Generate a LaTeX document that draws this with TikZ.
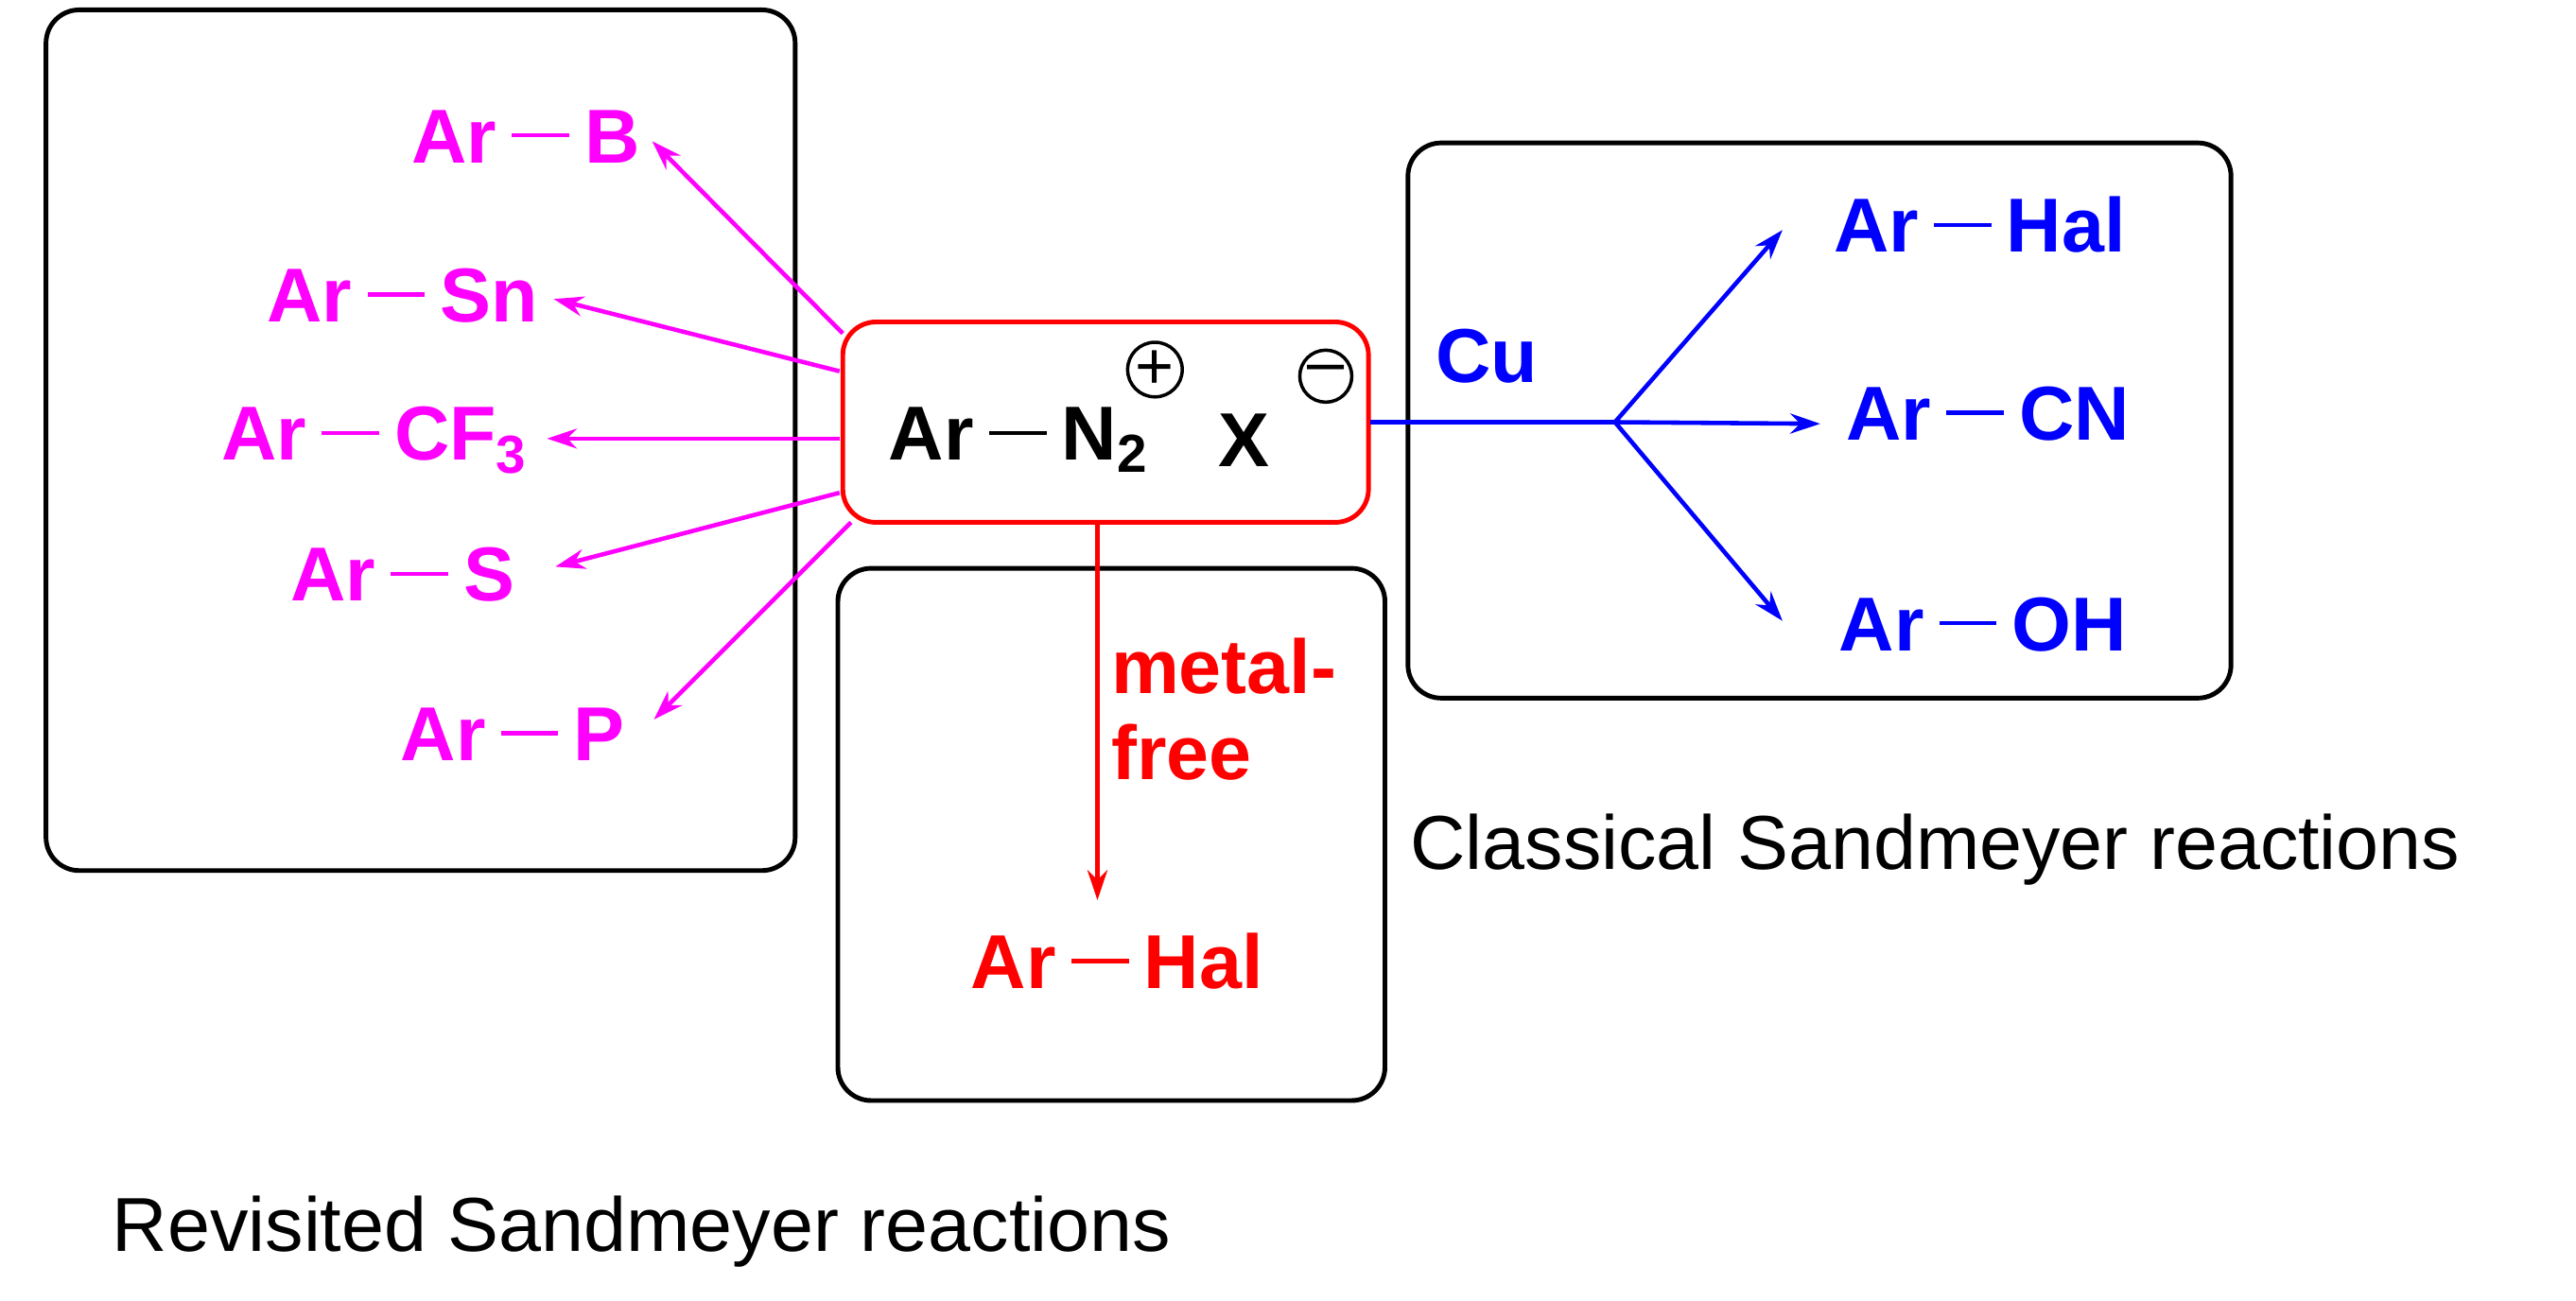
\documentclass[tikz,border=0pt]{standalone}
\usepackage{fontspec}
\setmainfont{Liberation Sans}
\usetikzlibrary{arrows.meta}
\definecolor{mag}{RGB}{255,0,255}
\definecolor{myblue}{RGB}{0,0,255}
\definecolor{myred}{RGB}{255,0,0}
\newcommand{\bnd}{\hspace{0.2em}\rule[0.33em]{0.75em}{1.3pt}\hspace{0.2em}}
\begin{document}
\begin{tikzpicture}[x=0.01737cm,y=-0.01737cm,
  box/.style={draw=black,line width=1.4pt,rounded corners=10pt},
  chem/.style={font=\fontsize{23}{26}\selectfont\bfseries,inner sep=0pt},
  captn/.style={font=\fontsize{23}{26}\selectfont,inner sep=0pt,anchor=west},
  ma/.style={mag,line width=1.3pt,-{Stealth[length=9pt,width=6pt]}},
  ba/.style={myblue,line width=1.3pt,-{Stealth[length=9pt,width=6pt]}},
  chg/.style={draw,circle,line width=1pt,minimum size=0.55cm,inner sep=0pt,font=\fontsize{20}{20}\selectfont}]
\useasboundingbox (0,0) rectangle (1568,792);
\draw[box] (28,6) rectangle (484,530);
\draw[box] (510,346) rectangle (843,670);
\draw[box] (857,87) rectangle (1358,425);
\draw[myred,line width=1.4pt,rounded corners=10pt] (513,196) rectangle (833,318);
\node[chem] (main) at (620,268) {Ar\bnd N\textsubscript{2}};
\node[chem] (x) at (757,268) {X};
\node[chg] (p) at (703,225) {+};
\node[chg] (m) at (807,229) {\raisebox{0.1ex}{--}};
% magenta
\node[chem,mag] (b) at (320,83) {Ar\bnd B};
\node[chem,mag] (sn) at (245,180) {Ar\bnd Sn};
\node[chem,mag] (cf) at (228,268) {Ar\bnd CF\textsubscript{3}};
\node[chem,mag] (s) at (245,350) {Ar\bnd S};
\node[chem,mag] (pp) at (312,447) {Ar\bnd P};
\coordinate (o1) at (513,203); \coordinate (t1) at (397,86);
\coordinate (o2) at (511,226); \coordinate (t2) at (337,182);
\coordinate (o3) at (511,267); \coordinate (t3) at (333,267);
\coordinate (o4) at (511,300); \coordinate (t4) at (338,345);
\coordinate (o5) at (518,318); \coordinate (t5) at (398,438);
\draw[ma] (o1) -- (t1);
\draw[ma] (o2) -- (t2);
\draw[ma] (o3) -- (t3);
\draw[ma] (o4) -- (t4);
\draw[ma] (o5) -- (t5);
% blue
\coordinate (bs) at (834,257);
\coordinate (br) at (983,257);
\coordinate (e1) at (1085,140);
\coordinate (e2) at (1108,258);
\coordinate (e3) at (1085,378);
\draw[myblue,line width=1.3pt] (bs) -- (br);
\draw[ba] (br) -- (e1);
\draw[ba] (br) -- (e2);
\draw[ba] (br) -- (e3);
\node[chem,myblue] (cu) at (905,217) {Cu};
\node[chem,myblue] (h1) at (1205,137) {Ar\bnd Hal};
\node[chem,myblue] (cn) at (1210,252) {Ar\bnd CN};
\node[chem,myblue] (oh) at (1207,380) {Ar\bnd OH};
% red
\coordinate (rs) at (668,318);
\coordinate (re) at (668,548);
\draw[myred,line width=1.3pt,-{Stealth[length=9pt,width=6pt]}] (rs) -- (re);
\node[chem,myred,anchor=north west,align=left] (mf) at (676,388) {metal-\\free};
\node[chem,myred] (h2) at (680,585) {Ar\bnd Hal};
% captions
\node[captn] (cc) at (858,517) {Classical Sandmeyer reactions};
\node[captn] (rc) at (68,750) {Revisited Sandmeyer reactions};
\end{tikzpicture}
\end{document}
